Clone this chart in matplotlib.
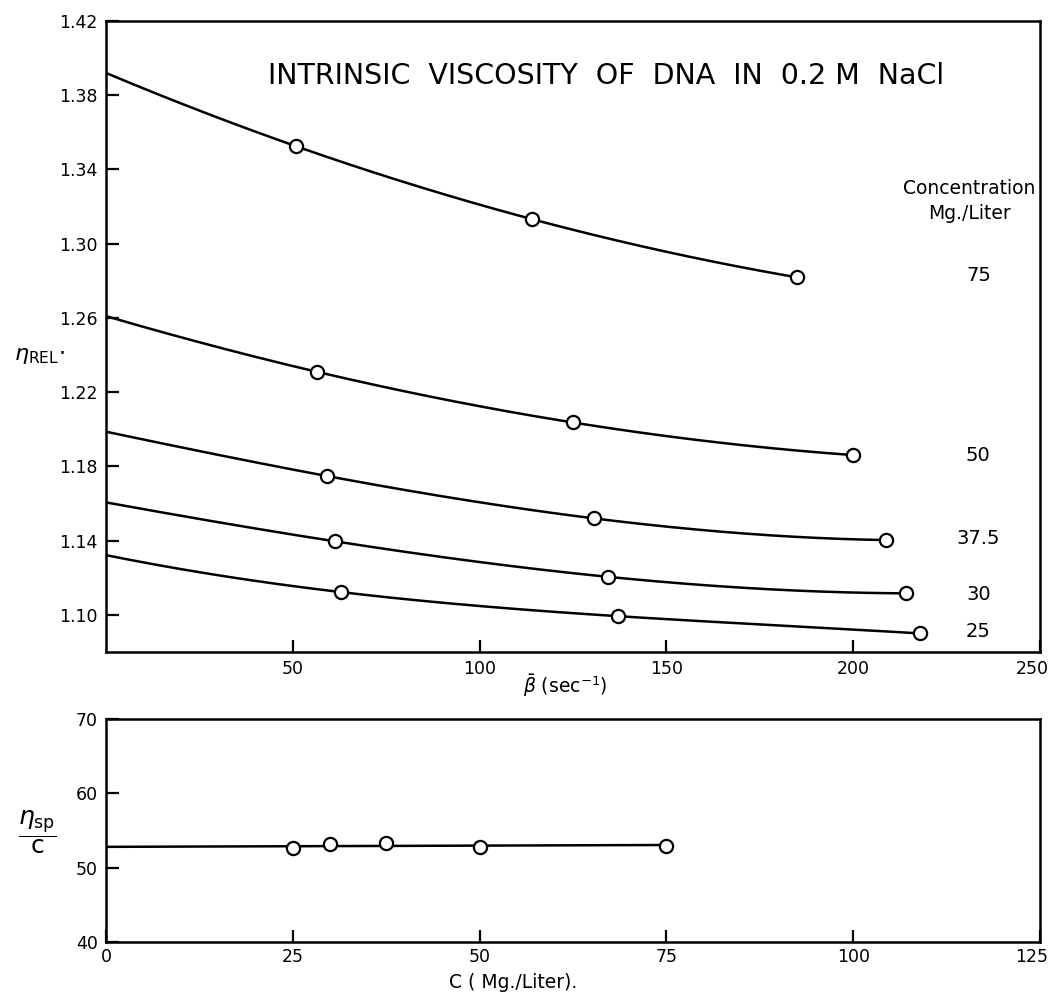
import numpy as np
import matplotlib
matplotlib.use("Agg")
import matplotlib.pyplot as plt
import matplotlib.transforms as mtransforms

# ---- data ----
concentrations = ["75", "50", "37.5", "30", "25"]
# extrapolated intercept at beta = 0 followed by the three measured points
beta_75 = [0.0, 50.9, 113.9, 184.9]
eta_75 = [1.392, 1.3525, 1.3133, 1.2819]
beta_50 = [0.0, 56.4, 124.9, 200.0]
eta_50 = [1.261, 1.231, 1.2037, 1.1861]
beta_375 = [0.0, 59.2, 130.6, 208.9]
eta_375 = [1.1987, 1.1748, 1.1520, 1.1403]
beta_30 = [0.0, 61.4, 134.4, 214.2]
eta_30 = [1.1606, 1.1396, 1.1205, 1.1116]
beta_25 = [0.0, 62.8, 137.1, 218.0]
eta_25 = [1.1322, 1.1123, 1.0993, 1.0900]

conc_points = [25, 30, 37.5, 50, 75]
eta_sp_c = [52.6, 53.2, 53.35, 52.75, 52.85]
fit_c = [0, 75]
fit_eta = [52.8, 53.05]

top_yticks = [1.10, 1.14, 1.18, 1.22, 1.26, 1.30, 1.34, 1.38, 1.42]
top_xticks = [50, 100, 150, 200, 250]
bot_yticks = [40, 50, 60, 70]
bot_xticks = [0, 25, 50, 75, 100, 125]

series = [(beta_75, eta_75), (beta_50, eta_50), (beta_375, eta_375),
          (beta_30, eta_30), (beta_25, eta_25)]
label_y = [1.283, 1.186, 1.141, 1.111, 1.091]

W, H = 1054, 994
fig = plt.figure(figsize=(W / 100, H / 100), dpi=100)
plt.rcParams['font.family'] = ['DejaVu Sans']

def fx(px):
    return px / W

def fy(py):
    return 1 - py / H

LW = 1.8
ax = fig.add_axes([fx(106), fy(652), fx(1040) - fx(106), fy(21) - fy(652)])
ax2 = fig.add_axes([fx(106), fy(942), fx(1040) - fx(106), fy(719) - fy(942)])

for a in (ax, ax2):
    for s in a.spines.values():
        s.set_linewidth(LW)
    a.tick_params(direction='in', length=9, width=1.6, labelsize=12.5, pad=6)

# top panel
for (b, e) in series:
    b = np.asarray(b); e = np.asarray(e)
    coef = np.polyfit(b, e, 3)
    xs = np.linspace(b[0], b[-1], 200)
    ax.plot(xs, np.polyval(coef, xs), color='black', lw=LW, zorder=2)
    ax.plot(b[1:], e[1:], 'o', ms=9.5, mfc='white', mec='black', mew=1.6, zorder=3)

ax.set_xlim(0, 250)
ax.set_ylim(1.08, 1.42)
ax.set_xticks(top_xticks)
ax.set_xticklabels([str(t) for t in top_xticks])
ax.set_yticks(top_yticks)
ax.set_yticklabels(["%.2f" % t for t in top_yticks])

ax.text(0.535, 0.913, "INTRINSIC  VISCOSITY  OF  DNA  IN  0.2 M  NaCl",
        transform=ax.transAxes, ha='center', va='center', fontsize=20.5)
ax.text(231, 1.330, "Concentration", ha='center', va='center', fontsize=13.5)
ax.text(231, 1.3165, "Mg./Liter", ha='center', va='center', fontsize=13.5)
for lab, yv in zip(concentrations, label_y):
    ax.text(233.5, yv, lab, ha='center', va='center', fontsize=14)

fig.text(fx(565), fy(686), r'$\bar{\beta}$ (sec$^{-1}$)', ha='center', va='center', fontsize=13.5)
fig.text(fx(14), fy(356), r'$\eta_{\mathrm{REL}}$$\cdot$', ha='left', va='center', fontsize=16)

# bottom panel
ax2.plot(fit_c, fit_eta, color='black', lw=LW, zorder=2)
ax2.plot(conc_points, eta_sp_c, 'o', ms=9.5, mfc='white', mec='black', mew=1.6, zorder=3)
ax2.set_xlim(0, 125)
ax2.set_ylim(40, 70)
ax2.set_xticks(bot_xticks)
ax2.set_yticks(bot_yticks)
ax2.tick_params(axis='x', pad=4)

# pull the last x tick labels slightly left so they stay inside the figure
shift = mtransforms.ScaledTranslation(-8 / 100, 0, fig.dpi_scale_trans)
for a in (ax, ax2):
    lbl = a.get_xticklabels()[-1]
    lbl.set_transform(lbl.get_transform() + shift)

fig.text(fx(37), fy(832), r'$\dfrac{\eta_{\mathrm{sp}}}{\mathrm{c}}$', ha='center', va='center', fontsize=18)
fig.text(fx(513), fy(982), "C ( Mg./Liter).", ha='center', va='center', fontsize=13.5)

fig.savefig("out.png", dpi=100, facecolor='white')
